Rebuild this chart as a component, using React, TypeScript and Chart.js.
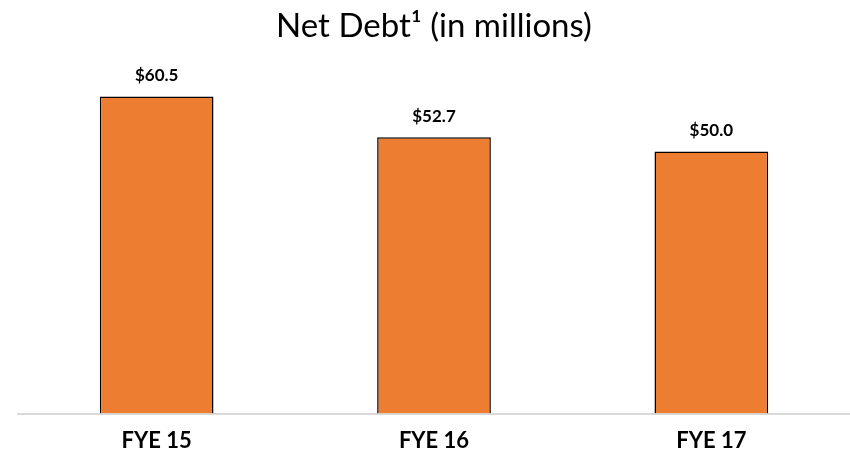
import React, { useEffect, useRef } from "react";
import { Chart, registerables } from "chart.js";

Chart.register(...registerables);

const categories = ["FYE 15", "FYE 16", "FYE 17"];
const netDebt = [60.5, 52.7, 50.0];
const valueLabels = ["$60.5", "$52.7", "$50.0"];
const titleText = "Net Debt\u00B9 (in millions)";

const FONT = "Lato, 'Open Sans', 'DejaVu Sans', sans-serif";

const valueLabelPlugin = {
  id: "valueLabels",
  afterDatasetsDraw(chart: any) {
    const ctx = chart.ctx;
    const meta = chart.getDatasetMeta(0);
    ctx.save();
    ctx.font = `bold 17px ${FONT}`;
    ctx.fillStyle = "#000000";
    ctx.textAlign = "center";
    ctx.textBaseline = "bottom";
    meta.data.forEach((bar: any, i: number) => {
      ctx.fillText(valueLabels[i], bar.x, bar.y - 12);
    });
    ctx.restore();
  },
};

export default function App() {
  const canvasRef = useRef<HTMLCanvasElement | null>(null);

  useEffect(() => {
    document.body.style.margin = "0";
    const canvas = canvasRef.current;
    if (!canvas) return;
    const chart = new Chart(canvas, {
      type: "bar",
      data: {
        labels: categories,
        datasets: [
          {
            data: netDebt,
            backgroundColor: "#ED7D31",
            borderColor: "#000000",
            borderWidth: 1.5,
            categoryPercentage: 1,
            barPercentage: 0.41,
          },
        ],
      },
      options: {
        animation: false,
        responsive: false,
        maintainAspectRatio: false,
        layout: { padding: { left: 18, right: 0, top: 0, bottom: -9 } },
        plugins: {
          legend: { display: false },
          tooltip: { enabled: false },
          title: {
            display: true,
            text: titleText,
            color: "#000000",
            font: { family: FONT, size: 33, weight: "normal" },
            padding: { top: 7, bottom: 0 },
          },
        },
        scales: {
          x: {
            grid: { display: false, drawTicks: false },
            border: { display: true, color: "#D9D9D9", width: 2 },
            ticks: {
              color: "#000000",
              font: { family: FONT, size: 22, weight: "bold" },
              padding: 14,
            },
          },
          y: {
            display: false,
            min: 0,
            max: 70,
          },
        },
      },
      plugins: [valueLabelPlugin],
    });
    return () => chart.destroy();
  }, []);

  return (
    <div style={{ width: 850, height: 459 }}>
      <canvas ref={canvasRef} width={850} height={459} style={{ display: "block" }} />
    </div>
  );
}
